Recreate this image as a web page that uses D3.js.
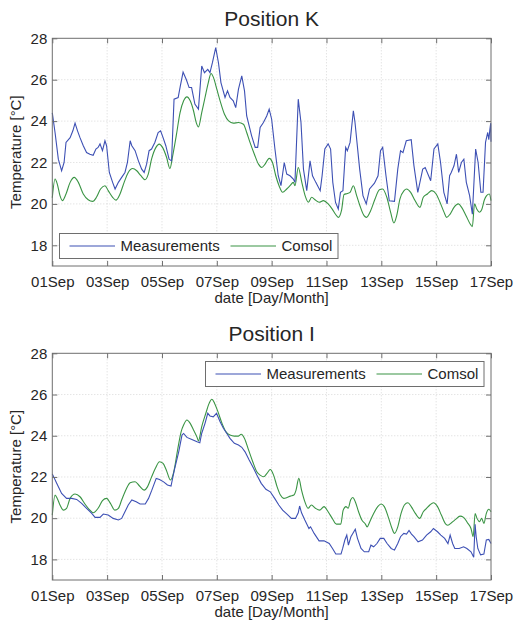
<!DOCTYPE html>
<html>
<head>
<meta charset="utf-8">
<script src="https://cdn.jsdelivr.net/npm/d3@7"></script>
<style>
  body { margin: 0; background: #fff; }
  svg { display: block; font-family: "Liberation Sans", Arial, sans-serif; }
</style>
</head>
<body>
<div id="chart"></div>
<script>

// [day offset from 01 Sep, temperature °C]
const posKMeasurements = [[0.00,24.4],[0.10,23.45],[0.22,22.16],[0.34,21.6],[0.43,22.0],[0.50,22.97],[0.65,23.2],[0.75,23.53],[0.83,23.9],[0.92,23.53],[1.01,23.2],[1.13,22.81],[1.25,22.48],[1.37,22.4],[1.49,22.35],[1.59,22.65],[1.67,22.73],[1.74,22.9],[1.83,22.57],[1.92,23.05],[1.98,22.81],[2.08,21.52],[2.20,21.04],[2.29,20.72],[2.41,21.04],[2.53,21.28],[2.65,21.52],[2.74,22.0],[2.84,23.05],[2.90,22.81],[3.02,22.57],[3.14,22.08],[3.26,21.68],[3.35,21.52],[3.44,21.92],[3.53,22.57],[3.62,22.65],[3.74,22.97],[3.86,23.45],[3.95,23.53],[4.04,23.2],[4.14,22.81],[4.26,22.16],[4.35,22.08],[4.44,25.06],[4.59,25.14],[4.67,25.7],[4.77,26.37],[4.89,26.0],[4.99,25.62],[5.08,25.62],[5.20,24.82],[5.33,24.58],[5.45,26.66],[5.55,26.34],[5.67,26.5],[5.75,26.34],[5.84,26.82],[5.96,27.55],[6.06,26.82],[6.15,25.86],[6.30,25.14],[6.39,25.46],[6.48,25.14],[6.60,24.98],[6.69,24.65],[6.79,25.54],[6.91,26.18],[7.01,25.46],[7.09,24.25],[7.27,23.29],[7.40,22.73],[7.49,22.73],[7.58,23.69],[7.70,23.93],[7.82,24.25],[7.91,24.58],[8.00,24.09],[8.12,22.65],[8.24,21.36],[8.34,20.88],[8.46,22.0],[8.55,21.44],[8.67,21.36],[8.79,21.2],[8.85,21.04],[8.97,25.06],[9.07,23.93],[9.16,21.68],[9.28,20.64],[9.40,22.08],[9.49,21.36],[9.61,21.04],[9.77,20.64],[9.84,21.36],[9.94,22.65],[10.06,22.9],[10.15,22.65],[10.23,21.04],[10.33,20.07],[10.43,19.75],[10.51,20.56],[10.60,20.64],[10.70,22.73],[10.76,22.57],[10.86,22.97],[10.98,24.5],[11.04,23.93],[11.21,21.68],[11.33,20.4],[11.45,20.0],[11.57,20.72],[11.75,21.0],[11.88,21.36],[11.97,22.57],[12.05,22.73],[12.17,21.36],[12.29,20.15],[12.48,20.12],[12.60,21.68],[12.70,22.57],[12.79,22.48],[12.91,23.05],[13.09,23.1],[13.19,21.84],[13.33,20.56],[13.51,21.68],[13.60,21.76],[13.80,21.12],[13.92,22.65],[14.06,22.9],[14.16,22.0],[14.28,20.56],[14.40,20.0],[14.49,21.36],[14.55,21.52],[14.65,21.84],[14.74,22.4],[14.82,21.52],[14.92,22.0],[15.01,22.16],[15.10,21.04],[15.22,20.4],[15.32,19.5],[15.44,22.65],[15.53,22.0],[15.63,20.56],[15.71,20.56],[15.80,22.97],[15.88,23.45],[15.92,23.1],[15.96,23.6],[15.99,23.9],[16.0,23.0]];

const posKComsol = [[0.00,20.3],[0.10,21.2],[0.18,20.97],[0.28,20.4],[0.37,20.16],[0.50,20.48],[0.65,21.04],[0.80,21.28],[0.95,21.04],[1.13,20.48],[1.31,20.2],[1.47,20.12],[1.61,20.32],[1.76,20.72],[1.92,20.88],[2.04,20.64],[2.20,20.32],[2.32,20.18],[2.47,20.48],[2.62,21.04],[2.77,21.52],[2.93,21.71],[3.08,21.6],[3.23,21.36],[3.38,21.17],[3.50,21.44],[3.62,22.16],[3.78,22.73],[3.90,22.89],[4.02,22.73],[4.17,22.24],[4.29,21.71],[4.39,22.32],[4.52,23.29],[4.66,24.41],[4.79,24.98],[4.91,25.17],[5.03,24.98],[5.15,24.5],[5.25,23.93],[5.33,23.72],[5.45,24.41],[5.57,25.14],[5.69,25.86],[5.79,26.3],[5.88,26.1],[6.00,25.54],[6.12,24.98],[6.28,24.33],[6.43,24.01],[6.60,23.9],[6.79,23.93],[6.97,23.85],[7.09,23.45],[7.21,22.97],[7.37,22.4],[7.52,21.92],[7.64,21.76],[7.76,21.92],[7.91,22.2],[8.03,22.0],[8.15,21.36],[8.27,20.88],[8.40,20.56],[8.55,20.72],[8.67,20.88],[8.79,21.04],[8.85,20.88],[8.97,21.76],[9.10,21.04],[9.22,20.4],[9.34,20.08],[9.46,20.32],[9.58,20.2],[9.73,20.08],[9.89,20.16],[10.06,20.0],[10.21,19.75],[10.33,19.5],[10.43,19.35],[10.55,19.7],[10.64,20.45],[10.76,20.5],[10.86,20.56],[10.98,20.88],[11.10,20.4],[11.22,19.91],[11.37,19.43],[11.46,19.35],[11.61,19.67],[11.77,20.24],[11.93,20.68],[12.05,20.72],[12.20,20.32],[12.34,19.59],[12.46,19.08],[12.56,19.43],[12.68,20.24],[12.83,20.64],[12.92,20.72],[13.07,20.56],[13.23,20.16],[13.41,19.83],[13.53,20.32],[13.68,20.48],[13.84,20.64],[14.00,20.48],[14.14,20.08],[14.29,19.59],[14.38,19.35],[14.51,19.51],[14.65,19.83],[14.81,20.0],[14.93,19.83],[15.09,19.43],[15.24,19.03],[15.32,18.9],[15.40,20.0],[15.48,19.75],[15.58,19.6],[15.66,19.72],[15.76,20.2],[15.84,20.4],[15.94,20.48],[16.0,20.16]];

const posIMeasurements = [[0.00,22.15],[0.16,21.69],[0.34,21.2],[0.52,20.96],[0.71,20.96],[0.89,20.91],[1.07,20.72],[1.25,20.48],[1.43,20.24],[1.56,20.04],[1.74,20.04],[1.86,20.2],[2.04,20.15],[2.22,19.99],[2.41,19.91],[2.53,19.99],[2.65,20.31],[2.77,20.64],[2.90,20.88],[3.06,20.8],[3.20,20.69],[3.39,20.69],[3.51,20.96],[3.63,21.36],[3.79,21.93],[3.91,21.88],[4.06,21.76],[4.20,21.61],[4.33,21.56],[4.45,22.33],[4.61,23.22],[4.73,24.03],[4.79,24.11],[4.91,23.92],[5.09,23.82],[5.28,23.71],[5.38,23.66],[5.45,24.12],[5.57,24.6],[5.67,25.09],[5.75,24.96],[5.87,24.92],[5.99,25.09],[6.12,24.68],[6.24,24.36],[6.36,24.12],[6.48,23.87],[6.64,23.63],[6.79,23.55],[6.91,23.44],[7.03,23.22],[7.18,22.82],[7.34,22.42],[7.46,22.09],[7.62,21.69],[7.79,21.4],[7.95,21.28],[8.11,20.96],[8.26,20.64],[8.40,20.39],[8.56,20.2],[8.72,19.99],[8.87,19.99],[8.97,20.26],[9.02,20.59],[9.09,20.26],[9.21,19.91],[9.36,19.5],[9.42,19.58],[9.55,19.26],[9.73,18.9],[9.91,18.9],[10.10,18.77],[10.22,18.53],[10.34,18.26],[10.53,18.26],[10.59,18.53],[10.67,18.94],[10.74,19.18],[10.80,18.69],[10.89,19.1],[10.96,19.26],[11.05,19.46],[11.13,19.02],[11.26,18.53],[11.38,18.37],[11.54,18.37],[11.62,18.69],[11.72,18.61],[11.84,18.77],[11.96,19.02],[12.09,19.02],[12.21,18.77],[12.36,18.53],[12.48,18.45],[12.60,18.77],[12.70,19.1],[12.82,19.26],[12.92,19.23],[13.01,19.4],[13.10,19.23],[13.19,19.1],[13.34,18.85],[13.50,18.94],[13.65,19.18],[13.80,19.34],[13.90,19.5],[14.05,19.34],[14.17,19.18],[14.31,19.02],[14.43,18.77],[14.51,19.18],[14.60,18.77],[14.68,18.53],[14.84,18.53],[15.00,18.61],[15.12,18.53],[15.27,18.37],[15.37,18.1],[15.42,19.7],[15.46,19.1],[15.52,18.53],[15.62,18.22],[15.74,18.26],[15.83,18.94],[15.92,18.97],[16.0,18.77]];

const posIComsol = [[0.00,20.15],[0.10,21.12],[0.18,20.96],[0.28,20.64],[0.40,20.39],[0.52,20.48],[0.65,20.96],[0.83,21.17],[1.01,21.04],[1.19,20.69],[1.37,20.39],[1.49,20.26],[1.67,20.48],[1.83,20.85],[1.98,20.96],[2.12,20.72],[2.28,20.39],[2.41,20.48],[2.53,20.88],[2.69,21.39],[2.84,21.72],[3.02,21.77],[3.18,21.56],[3.35,21.36],[3.47,21.52],[3.60,21.93],[3.76,22.42],[3.91,22.74],[4.04,22.66],[4.16,22.33],[4.31,21.85],[4.43,22.25],[4.58,23.39],[4.70,24.2],[4.79,24.52],[4.91,24.76],[5.03,24.6],[5.15,24.28],[5.28,23.92],[5.33,23.75],[5.45,24.44],[5.60,25.09],[5.72,25.57],[5.82,25.77],[5.92,25.57],[6.04,25.17],[6.19,24.6],[6.33,24.2],[6.48,24.03],[6.64,23.98],[6.79,23.98],[6.89,24.07],[7.01,23.87],[7.16,23.3],[7.31,22.74],[7.46,22.25],[7.58,22.09],[7.71,22.01],[7.83,22.17],[7.95,22.36],[8.07,22.09],[8.20,21.52],[8.32,21.12],[8.44,20.96],[8.56,21.0],[8.68,21.07],[8.81,21.12],[8.89,21.36],[8.99,21.93],[9.09,21.36],[9.21,20.8],[9.33,20.48],[9.45,20.64],[9.60,20.48],[9.75,20.39],[9.91,20.56],[10.06,20.31],[10.21,19.99],[10.36,19.71],[10.52,19.71],[10.61,20.39],[10.71,20.56],[10.79,20.48],[10.88,20.88],[10.96,21.0],[11.05,20.8],[11.17,20.31],[11.29,19.91],[11.42,19.71],[11.48,19.58],[11.58,19.83],[11.72,20.23],[11.87,20.56],[11.99,20.69],[12.11,20.56],[12.27,19.99],[12.39,19.5],[12.48,19.26],[12.60,19.58],[12.72,20.23],[12.84,20.64],[12.97,20.75],[13.09,20.56],[13.24,20.23],[13.40,19.99],[13.53,20.31],[13.65,20.48],[13.77,20.64],[13.90,20.75],[14.05,20.56],[14.19,20.15],[14.35,19.71],[14.43,19.66],[14.56,19.78],[14.71,19.94],[14.87,20.1],[15.00,20.04],[15.14,19.78],[15.27,19.5],[15.35,19.1],[15.42,20.23],[15.49,19.99],[15.58,19.83],[15.66,19.99],[15.74,19.75],[15.83,20.23],[15.92,20.43],[16.0,20.31]];

const seriesNames = ["Measurements", "Comsol"];
const yTicks = [18, 20, 22, 24, 26, 28];
const xTickDays = [0, 2, 4, 6, 8, 10, 12, 14, 16];

const width = 516, height = 624;
const blue = "#3d50b4", green = "#3a9444";
const axisColor = "#6e6e6e", textColor = "#262626";
const start = new Date(2015, 8, 1);
const toDate = d => new Date(start.getTime() + d * 864e5);

const svg = d3.select("#chart").append("svg")
  .attr("width", width)
  .attr("height", height);

const left = 52.3, right = 491;

function panel(cfg) {
  const { top, bottom, title, meas, comsol, legendX, legendY } = cfg;

  const x = d3.scaleTime()
    .domain([start, toDate(16)])
    .range([left, right]);
  const y = d3.scaleLinear()
    .domain([17, 28])
    .range([bottom, top]);

  const g = svg.append("g");

  // grid
  const grid = g.append("g")
    .attr("stroke", "#cfcfcf")
    .attr("stroke-width", 0.8)
    .attr("stroke-dasharray", "1,2");
  grid.selectAll(".gx").data(xTickDays.slice(1, -1)).join("line")
    .attr("x1", d => x(toDate(d))).attr("x2", d => x(toDate(d)))
    .attr("y1", top).attr("y2", bottom);
  grid.selectAll(".gy").data(yTicks.slice(0, -1)).join("line")
    .attr("x1", left).attr("x2", right)
    .attr("y1", d => y(d)).attr("y2", d => y(d));

  // lines
  const lineMeas = d3.line()
    .x(d => x(toDate(d[0])))
    .y(d => y(d[1]));
  const lineCom = d3.line()
    .curve(d3.curveMonotoneX)
    .x(d => x(toDate(d[0])))
    .y(d => y(d[1]));

  g.append("path").datum(comsol)
    .attr("fill", "none").attr("stroke", green).attr("stroke-width", 1.1)
    .attr("d", lineCom);
  g.append("path").datum(meas)
    .attr("fill", "none").attr("stroke", blue).attr("stroke-width", 1.1)
    .attr("d", lineMeas);

  // axes (ticks pointing inward)
  const xTickVals = xTickDays.map(toDate);
  const styleAxis = sel => {
    sel.select(".domain").remove();
    sel.selectAll(".tick line").attr("stroke", axisColor);
    sel.selectAll("text").attr("fill", textColor).style("font-size", "15px")
      .style("font-family", "'Liberation Sans', Arial, sans-serif");
  };

  g.append("g").attr("transform", `translate(0,${bottom})`)
    .call(d3.axisBottom(x).tickValues(xTickVals).tickFormat(d3.timeFormat("%d%b"))
      .tickSize(-5).tickPadding(10))
    .call(styleAxis);
  g.append("g").attr("transform", `translate(0,${top})`)
    .call(d3.axisTop(x).tickValues(xTickVals).tickFormat("").tickSize(-5))
    .call(styleAxis);
  g.append("g").attr("transform", `translate(${left},0)`)
    .call(d3.axisLeft(y).tickValues(yTicks).tickSize(-5).tickPadding(5))
    .call(styleAxis);
  g.append("g").attr("transform", `translate(${right},0)`)
    .call(d3.axisRight(y).tickValues(yTicks).tickFormat("").tickSize(-5))
    .call(styleAxis);

  g.append("rect")
    .attr("x", left).attr("y", top)
    .attr("width", right - left).attr("height", bottom - top)
    .attr("fill", "none").attr("stroke", axisColor).attr("stroke-width", 1);

  // titles
  g.append("text")
    .attr("x", (left + right) / 2).attr("y", top - 12)
    .attr("text-anchor", "middle")
    .attr("fill", textColor)
    .style("font-size", "21px")
    .text(title);
  g.append("text")
    .attr("x", (left + right) / 2).attr("y", bottom + 36.5)
    .attr("text-anchor", "middle")
    .attr("fill", textColor)
    .style("font-size", "15px")
    .text("date [Day/Month]");
  g.append("text")
    .attr("transform", `translate(21,${(top + bottom) / 2}) rotate(-90)`)
    .attr("text-anchor", "middle")
    .attr("fill", textColor)
    .style("font-size", "15px")
    .text("Temperature [°C]");

  // legend
  const lg = g.append("g").attr("transform", `translate(${legendX},${legendY})`);
  lg.append("rect")
    .attr("width", 278.5).attr("height", 25)
    .attr("fill", "#fff").attr("stroke", "#6e6e6e").attr("stroke-width", 1);
  const items = [
    { name: seriesNames[0], color: blue, x0: 10 },
    { name: seriesNames[1], color: green, x0: 171 }
  ];
  items.forEach(it => {
    lg.append("line")
      .attr("x1", it.x0).attr("x2", it.x0 + 45.5)
      .attr("y1", 12.5).attr("y2", 12.5)
      .attr("stroke", it.color).attr("stroke-width", 1.1);
    lg.append("text")
      .attr("x", it.x0 + 51).attr("y", 12.5).attr("dy", "0.35em")
      .attr("fill", textColor)
      .style("font-size", "15px")
      .text(it.name);
  });
}

panel({ top: 38.3, bottom: 266, title: "Position K",
  meas: posKMeasurements, comsol: posKComsol, legendX: 59.5, legendY: 233.5 });
panel({ top: 353.3, bottom: 580, title: "Position I",
  meas: posIMeasurements, comsol: posIComsol, legendX: 205.5, legendY: 361.5 });

</script>
</body>
</html>
